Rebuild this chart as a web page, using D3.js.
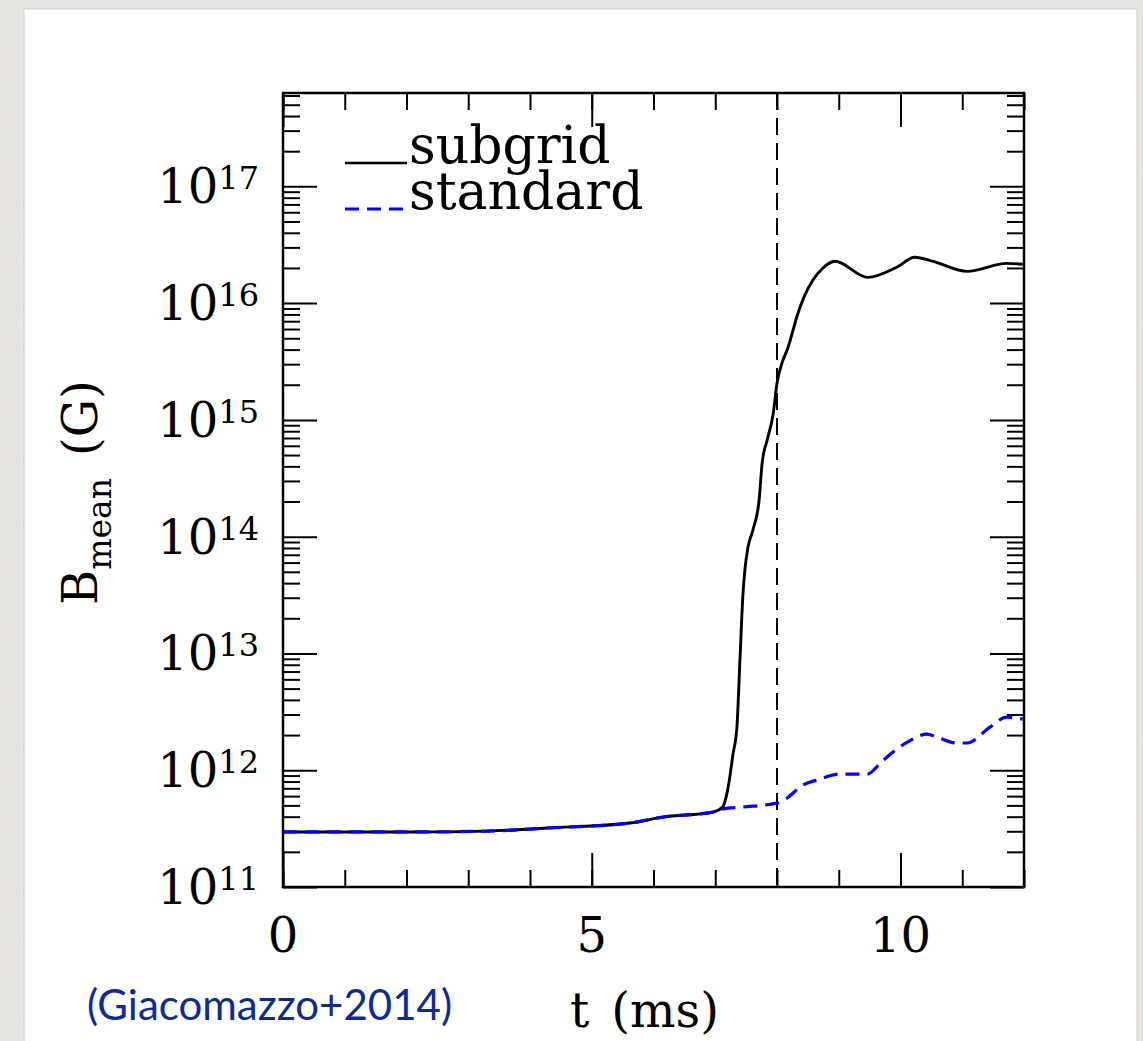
<!DOCTYPE html>
<html>
<head>
<meta charset="utf-8">
<script src="https://cdn.jsdelivr.net/npm/d3@7"></script>
<style>
body { margin: 0; background: #e8e6e3; }
svg { display: block; }
</style>
</head>
<body>
<svg id="chart" width="1143" height="1041"></svg>
<script>
// values: t in ms, B in gauss
var tSubgrid = [0, 2.1, 3.3, 4.28, 5.62, 6.15, 6.96, 7.12, 7.21, 7.29, 7.35, 7.40, 7.45, 7.48, 7.53,
                7.61, 7.71, 7.76, 7.84, 7.94, 8.0, 8.08, 8.18, 8.26, 8.32, 8.45, 8.58, 8.74, 8.94,
                9.47, 9.94, 10.23, 10.53, 11.08, 11.72, 11.98];
var bSubgrid = [2.96e11, 2.96e11, 3.01e11, 3.2e11, 3.53e11, 3.97e11, 4.38e11, 4.84e11, 7.2e11, 1.4e12,
                2.3e12, 8.8e12, 3.3e13, 5.2e13, 8.1e13, 1.14e14, 2.05e14, 4.3e14, 6.7e14, 1.14e15,
                2.06e15, 3.06e15, 4.19e15, 5.86e15, 7.6e15, 1.17e16, 1.57e16, 1.99e16, 2.28e16,
                1.66e16, 2.03e16, 2.47e16, 2.28e16, 1.87e16, 2.19e16, 2.15e16];

var tStandard = [0, 2.1, 3.3, 4.28, 5.62, 6.15, 6.96, 7.12, 7.45, 8.0, 8.16, 8.42, 8.65, 9.02, 9.46,
                 9.72, 10.11, 10.43, 10.59, 10.91, 11.08, 11.45, 11.72, 11.98];
var bStandard = [2.96e11, 2.96e11, 3.01e11, 3.2e11, 3.53e11, 3.97e11, 4.38e11, 4.66e11, 4.84e11,
                 5.24e11, 5.78e11, 7.47e11, 8.24e11, 9.27e11, 9.27e11, 1.22e12, 1.74e12, 2.04e12,
                 1.92e12, 1.71e12, 1.71e12, 2.34e12, 2.85e12, 2.74e12];

var xMajor = [0, 5, 10];
var xMinor = d3.range(0, 13);
var yExponents = [11, 12, 13, 14, 15, 16, 17];
var mergerTime = 8;
var legendNames = ["subgrid", "standard"];
var citation = "(Giacomazzo+2014)";

var svg = d3.select("#chart");
var serif = "'DejaVu Serif', serif";

// paper texture and white card
var defs = svg.append("defs");
var tex = defs.append("filter").attr("id", "paper");
tex.append("feTurbulence").attr("type", "fractalNoise").attr("baseFrequency", 0.9).attr("numOctaves", 2).attr("seed", 3);
tex.append("feColorMatrix").attr("type", "matrix")
    .attr("values", "0 0 0 0 0.62  0 0 0 0 0.61  0 0 0 0 0.6  0 0 0 0.35 0");
tex.append("feComposite").attr("in2", "SourceGraphic").attr("operator", "in");
svg.append("rect").attr("width", 1143).attr("height", 1041).attr("fill", "#ebe9e6");
svg.append("rect").attr("width", 1143).attr("height", 1041).attr("fill", "#ebe9e6").attr("filter", "url(#paper)");
svg.append("rect").attr("x", 24).attr("y", 9).attr("width", 1113).attr("height", 1040)
    .attr("fill", "#fff").attr("stroke", "#d0cecb").attr("stroke-width", 1);

var plotLeft = 283, plotRight = 1024, plotTop = 93, plotBottom = 887;

var x = d3.scaleLinear().domain([0, 12]).range([plotLeft, plotRight]);
var y = d3.scaleLog().domain([1e11, 6.3e17]).range([plotBottom, plotTop]);

var g = svg.append("g");

// minor ticks for log axis: 2..9 times each decade
var yMinor = [];
yExponents.forEach(function(e) {
    for (var m = 2; m <= 9; m++) {
        var v = m * Math.pow(10, e);
        if (v <= y.domain()[1]) yMinor.push(v);
    }
});
var yMajor = yExponents.map(function(e) { return Math.pow(10, e); });

function tickAxis(axisFn, scale, vals, size, tx, ty) {
    var a = g.append("g")
        .attr("transform", "translate(" + tx + "," + ty + ")")
        .call(axisFn(scale).tickValues(vals).tickSizeInner(-size).tickSizeOuter(0).tickFormat(""));
    a.select(".domain").remove();
    a.selectAll(".tick line").attr("stroke", "#000").attr("stroke-width", 2);
}

tickAxis(d3.axisBottom, x, xMinor, 17, 0, plotBottom);
tickAxis(d3.axisBottom, x, xMajor, 34, 0, plotBottom);
tickAxis(d3.axisTop, x, xMinor, 17, 0, plotTop);
tickAxis(d3.axisTop, x, xMajor, 34, 0, plotTop);
tickAxis(d3.axisLeft, y, yMinor, 17, plotLeft, 0);
tickAxis(d3.axisLeft, y, yMajor, 34, plotLeft, 0);
tickAxis(d3.axisRight, y, yMinor, 17, plotRight, 0);
tickAxis(d3.axisRight, y, yMajor, 34, plotRight, 0);

// frame
g.append("rect").attr("x", plotLeft).attr("y", plotTop)
    .attr("width", plotRight - plotLeft).attr("height", plotBottom - plotTop)
    .attr("fill", "none").attr("stroke", "#000").attr("stroke-width", 2.5);

// tick labels
g.selectAll(".xlab").data(xMajor).enter().append("text")
    .attr("x", function(d) { return x(d); })
    .attr("y", 952)
    .attr("text-anchor", "middle")
    .attr("font-family", serif).attr("font-size", 48)
    .text(function(d) { return d; });

var ylab = g.selectAll(".ylab").data(yExponents).enter().append("text")
    .attr("x", 259)
    .attr("y", function(d) { return y(Math.pow(10, d)) + 17; })
    .attr("text-anchor", "end")
    .attr("font-family", serif).attr("font-size", 48);
ylab.append("tspan").text("10");
ylab.append("tspan").attr("dy", -14).attr("font-size", 32).text(function(d) { return d; });

// axis titles
var yt = svg.append("text")
    .attr("transform", "translate(97,605) rotate(-90)")
    .attr("font-family", serif).attr("font-size", 48);
yt.append("tspan").text("B");
yt.append("tspan").attr("dy", 14).attr("font-size", 33).text("mean");
yt.append("tspan").attr("dy", -14).attr("dx", 22).text("(G)");

var xt = svg.append("text")
    .attr("x", 570).attr("y", 1027)
    .attr("font-family", serif).attr("font-size", 48);
xt.append("tspan").text("t");
xt.append("tspan").attr("dx", 22).text("(ms)");

svg.append("text")
    .attr("x", 87).attr("y", 1020)
    .attr("font-family", "Lato, sans-serif").attr("font-size", 42)
    .attr("fill", "#0e2a95")
    .text(citation);

// curves
var clip = defs.append("clipPath").attr("id", "plot");
clip.append("rect").attr("x", plotLeft).attr("y", plotTop)
    .attr("width", plotRight - plotLeft).attr("height", plotBottom - plotTop);

var line = d3.line()
    .x(function(d) { return x(d[0]); })
    .y(function(d) { return y(d[1]); })
    .curve(d3.curveMonotoneX);

var plot = g.append("g").attr("clip-path", "url(#plot)");

plot.append("line")
    .attr("x1", x(mergerTime)).attr("x2", x(mergerTime))
    .attr("y1", plotTop).attr("y2", plotBottom)
    .attr("stroke", "#000").attr("stroke-width", 2)
    .attr("stroke-dasharray", "17,8");

plot.append("path")
    .datum(d3.zip(tSubgrid, bSubgrid))
    .attr("fill", "none").attr("stroke", "#000").attr("stroke-width", 2.9)
    .attr("stroke-linejoin", "round")
    .attr("d", line);

plot.append("path")
    .datum(d3.zip(tStandard, bStandard))
    .attr("fill", "none").attr("stroke", "#0000ff").attr("stroke-width", 3.2)
    .attr("stroke-dasharray", "14,8")
    .attr("d", line);

// legend
var styles = [{ color: "#000", dash: null, w: 2.6 }, { color: "#0000ff", dash: "14,8", w: 3 }];
var leg = g.selectAll(".leg").data(legendNames).enter().append("g")
    .attr("transform", function(d, i) { return "translate(345," + (163 + i * 46) + ")"; });
leg.append("line")
    .attr("x1", 0).attr("x2", 62).attr("y1", 0).attr("y2", 0)
    .attr("stroke", function(d, i) { return styles[i].color; })
    .attr("stroke-width", function(d, i) { return styles[i].w; })
    .attr("stroke-dasharray", function(d, i) { return styles[i].dash; });
leg.append("text")
    .attr("x", 64).attr("y", 0)
    .attr("font-family", serif).attr("font-size", 52)
    .text(function(d) { return d; });
</script>
</body>
</html>
